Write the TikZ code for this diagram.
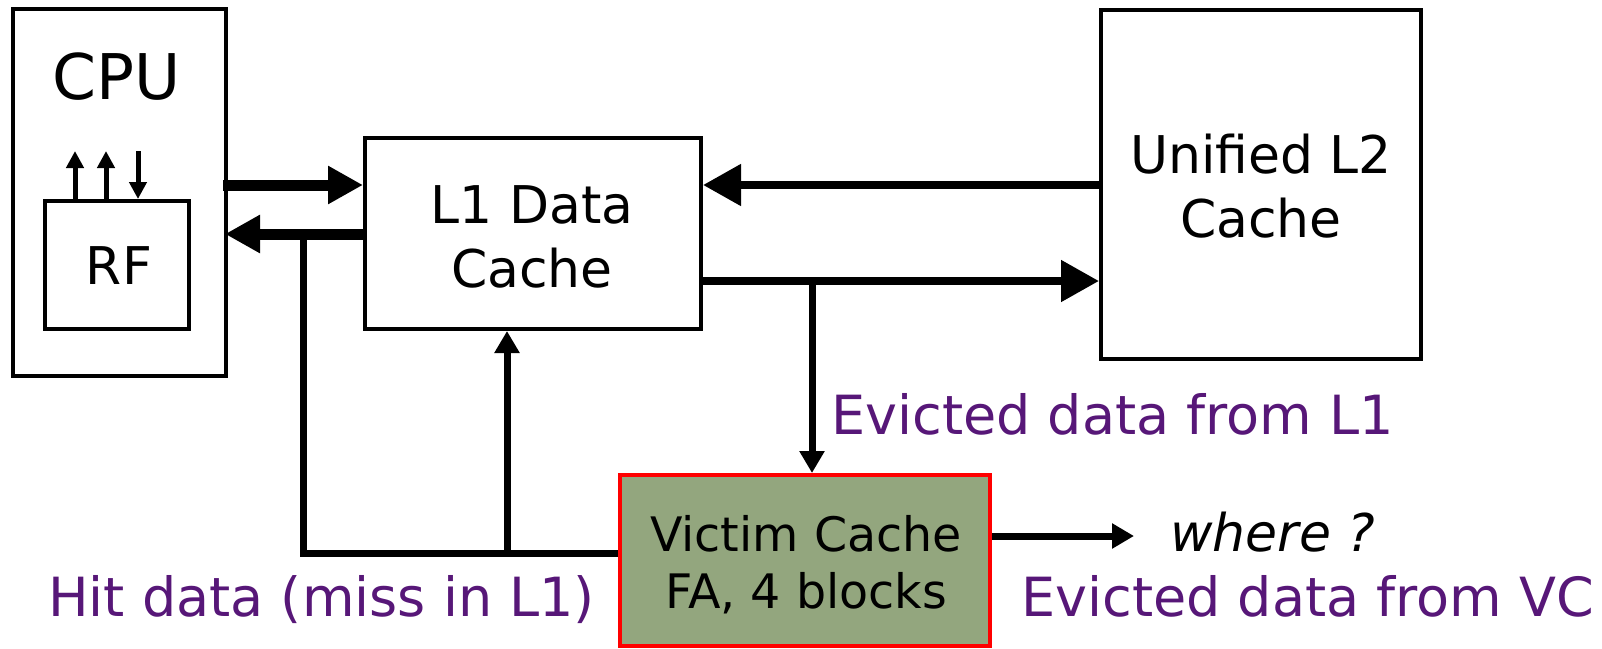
\documentclass[tikz,border=0pt]{standalone}
\usepackage{fontspec}
\setmainfont{DejaVu Sans}
\usetikzlibrary{arrows.meta,calc}
\definecolor{lbl}{RGB}{87,23,120}
\definecolor{vcfill}{RGB}{147,166,126}
\begin{document}
\begin{tikzpicture}[x=1pt,y=-1pt,
 box/.style={draw,line width=4pt,inner sep=0pt},
 txt/.style={font=\fontsize{52}{64}\selectfont,align=center,inner sep=0pt},
 lab/.style={font=\fontsize{54}{64}\selectfont,text=lbl,inner sep=0pt,anchor=base west},
 fat/.style={line width=11pt,-{Triangle[length=35pt,width=36pt]}},
 mid/.style={line width=8pt,-{Triangle[length=38pt,width=40pt]}},
 wire/.style={line width=7pt},
 wirearr/.style={line width=7pt,-{Triangle[length=22pt,width=24pt]}},
 tinyarr/.style={line width=5pt,-{Triangle[length=17pt,width=17pt]}}]
\useasboundingbox (0,0) rectangle (1602,648);
% boxes
\node[box,minimum width=213pt,minimum height=367pt] (cpu) at (119.5,192.5) {};
\node[font=\fontsize{63}{75}\selectfont,inner sep=0pt,anchor=base] (cputxt) at (117,99) {CPU};
\node[box,minimum width=144pt,minimum height=128pt] (rf) at (117,265) {};
\node[txt] (rftxt) at (119,266) {RF};
\node[box,minimum width=336pt,minimum height=191pt] (l1) at (533,233.5) {};
\node[txt] (l1txt) at (532,236.5) {L1 Data\\Cache};
\node[box,minimum width=320pt,minimum height=349pt] (l2) at (1261,184.5) {};
\node[txt] (l2txt) at (1261,186.5) {Unified L2\\Cache};
\node[draw=red,line width=4pt,fill=vcfill,inner sep=0pt,minimum width=370pt,minimum height=171pt] (vc) at (805,560.5) {};
\node[font=\fontsize{47.5}{57}\selectfont,align=center,inner sep=0pt] (vctxt) at (806,565) {Victim Cache\\FA, 4 blocks};
% row coordinates
\coordinate (r1) at (0,185);
\coordinate (r2) at (0,234);
\coordinate (r3) at (0,281);
\coordinate (r4) at (0,536);
\coordinate (hc) at (303,553);
\coordinate (hu) at (507,553);
\coordinate (br) at (812,281);
\coordinate (wend) at (1134,536);
% RF arrows
\draw[tinyarr] ($(rf.north west)+(32,0)$) -- ($(rf.north west)+(32,-48)$);
\draw[tinyarr] ($(rf.north west)+(63,0)$) -- ($(rf.north west)+(63,-48)$);
\draw[tinyarr] ($(rf.north west)+(95,-48)$) -- ($(rf.north west)+(95,0)$);
% CPU <-> L1
\draw[fat] ($(cpu.east |- r1)+(-5,0)$) -- (l1.west |- r1);
\draw[fat] (l1.west |- r2) -- ($(cpu.east |- r2)+(-3,0)$);
% L1 <-> L2
\draw[mid] (l2.west |- r1) -- (l1.east |- r1);
\draw[mid] (l1.east |- r3) -- (l2.west |- r3);
% eviction to VC
\draw[wirearr] (br) -- (br |- vc.north);
% hit path
\draw[wire] (hc |- r2) -- (hc) -- (vc.west |- hc);
\draw[wirearr] (hu) -- (hu |- l1.south);
% VC out
\draw[wirearr] (vc.east |- r4) -- (wend);
% labels
\node[lab] (evl1) at (831,434) {Evicted data from L1};
\node[lab] (hit) at (48,616) {Hit data (miss in L1)};
\node[lab] (evvc) at (1021,616) {Evicted data from VC};
\node[font=\fontsize{52}{63}\selectfont\itshape,inner sep=0pt,anchor=base west] (where) at (1170,551) {where ?};
\end{tikzpicture}
\end{document}
